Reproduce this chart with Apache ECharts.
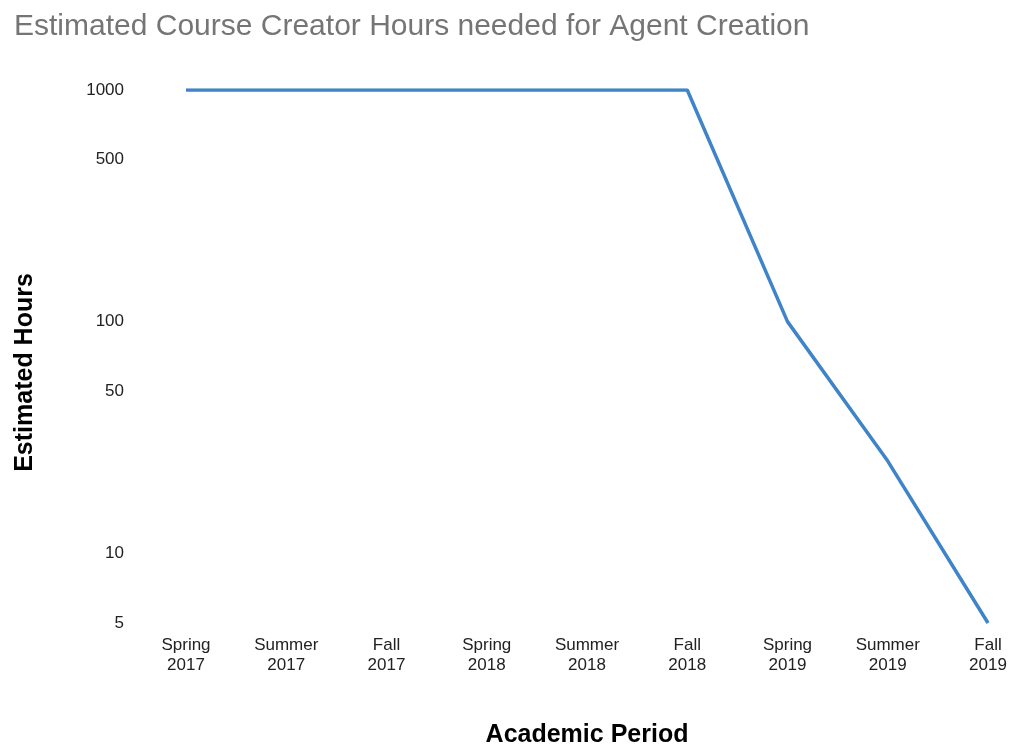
<!DOCTYPE html>
<html>
<head>
<meta charset="utf-8">
<script src="https://cdn.jsdelivr.net/npm/echarts@6/dist/echarts.min.js"></script>
<style>
  html, body { margin: 0; padding: 0; background: #fff; }
  #chart { width: 1011px; height: 747px; }
</style>
</head>
<body>
<div id="chart"></div>
<script>
// academic periods (x axis)
var periods = ['Spring\n2017', 'Summer\n2017', 'Fall\n2017', 'Spring\n2018', 'Summer\n2018',
    'Fall\n2018', 'Spring\n2019', 'Summer\n2019', 'Fall\n2019'];
// estimated hours per period
var hours = [1000, 1000, 1000, 1000, 1000, 1000, 100, 25, 5];
// y tick labels (log scale)
var yTicks = [5, 10, 50, 100, 500, 1000];

var chart = echarts.init(document.getElementById('chart'));
chart.setOption({
    animation: false,
    title: {
        text: 'Estimated Course Creator Hours needed for Agent Creation',
        left: 9,
        top: 7,
        textStyle: {
            fontFamily: 'Liberation Sans',
            fontSize: 30,
            fontWeight: 'normal',
            color: '#757575'
        }
    },
    grid: {
        left: 186,
        right: 23,
        top: 90,
        bottom: 124,
        outerBoundsMode: 'none'
    },
    xAxis: {
        type: 'category',
        data: periods,
        boundaryGap: false,
        name: 'Academic Period',
        nameLocation: 'middle',
        nameGap: 100,
        nameTextStyle: {
            fontFamily: 'Liberation Sans',
            fontSize: 25,
            fontWeight: 'bold',
            color: '#000'
        },
        axisLine: { show: false },
        axisTick: { show: false },
        axisLabel: {
            margin: 12,
            fontFamily: 'Liberation Sans',
            fontSize: 17,
            lineHeight: 20,
            color: '#222'
        }
    },
    yAxis: {
        type: 'log',
        logBase: 10,
        min: 5,
        max: 1000,
        name: 'Estimated Hours',
        nameLocation: 'middle',
        nameGap: 148,
        nameTextStyle: {
            fontFamily: 'Liberation Sans',
            fontSize: 25,
            fontWeight: 'bold',
            color: '#000',
            padding: [0, 32, 0, 0]
        },
        axisLine: { show: false },
        axisTick: { show: false },
        splitLine: { show: false },
        axisLabel: {
            customValues: yTicks,
            margin: 62,
            fontFamily: 'Liberation Sans',
            fontSize: 17,
            color: '#222',
            formatter: function (v) { return String(v); }
        }
    },
    series: [{
        type: 'line',
        data: hours,
        showSymbol: false,
        lineStyle: { color: '#3f84c9', width: 3.5 },
        itemStyle: { color: '#3f84c9' }
    }]
});
</script>
</body>
</html>
